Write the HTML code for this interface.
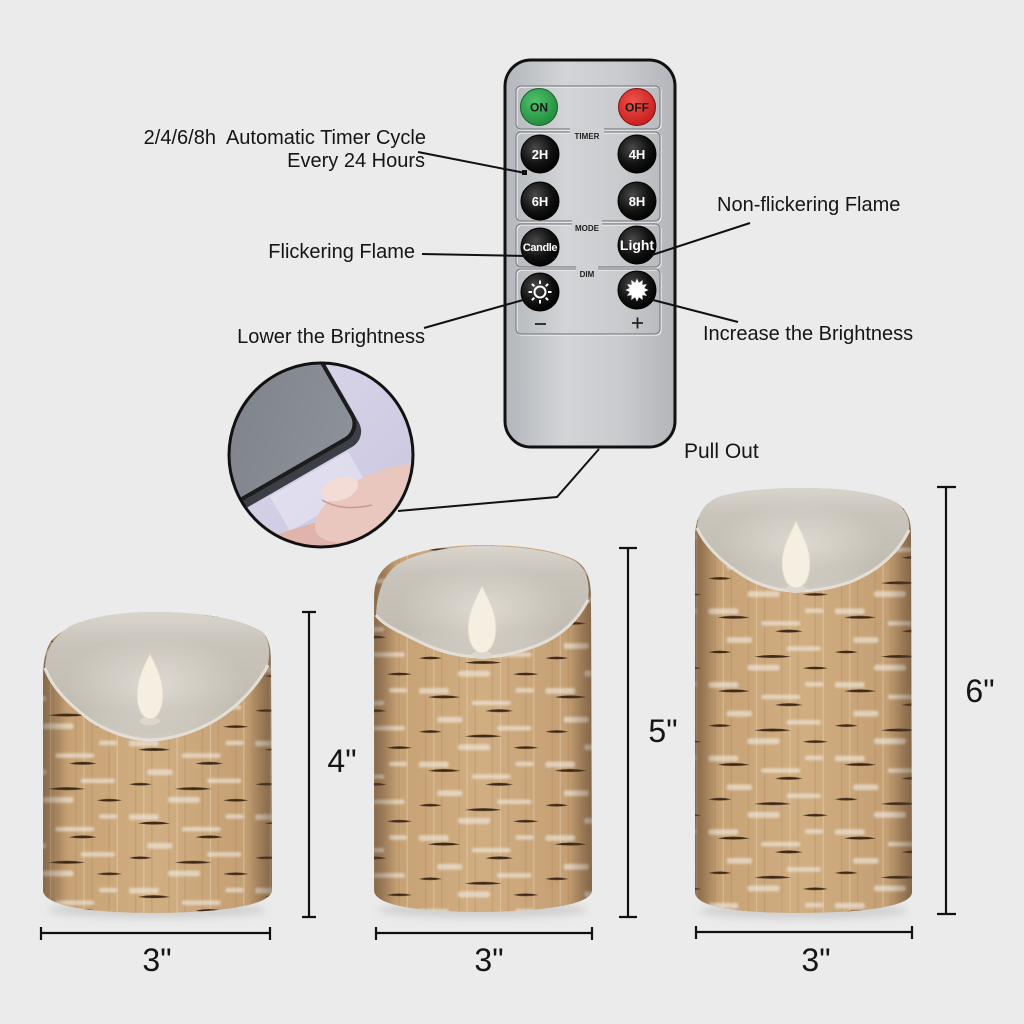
<!DOCTYPE html>
<html><head><meta charset="utf-8"><style>
html,body{margin:0;padding:0;background:#ebebeb;}
svg{display:block;}
text{font-family:"Liberation Sans",Arial,sans-serif;}
</style></head><body>
<svg width="1024" height="1024" viewBox="0 0 1024 1024" xmlns="http://www.w3.org/2000/svg">
<defs>
  <linearGradient id="rem" x1="0" y1="0" x2="1" y2="0">
    <stop offset="0" stop-color="#b3b6ba"/><stop offset=".35" stop-color="#d2d4d7"/>
    <stop offset=".7" stop-color="#c8cacd"/><stop offset="1" stop-color="#b2b5b9"/>
  </linearGradient>
  <radialGradient id="bb" cx=".38" cy=".35" r=".7">
    <stop offset="0" stop-color="#4a4a4a"/><stop offset=".6" stop-color="#121212"/><stop offset="1" stop-color="#000"/>
  </radialGradient>
  <radialGradient id="gb" cx=".4" cy=".35" r=".7">
    <stop offset="0" stop-color="#4fc26a"/><stop offset="1" stop-color="#1f8a3d"/>
  </radialGradient>
  <radialGradient id="rb" cx=".4" cy=".35" r=".7">
    <stop offset="0" stop-color="#f0514a"/><stop offset="1" stop-color="#c41d1d"/>
  </radialGradient>
  <linearGradient id="lav" x1="0" y1="0" x2="1" y2="1">
    <stop offset="0" stop-color="#dcd9ec"/><stop offset="1" stop-color="#c8c4de"/>
  </linearGradient>
  <linearGradient id="rg" x1="0" y1="0" x2="1" y2="1">
    <stop offset="0" stop-color="#6f747c"/><stop offset="1" stop-color="#8d929a"/>
  </linearGradient>
  <clipPath id="cc"><circle cx="321" cy="455" r="92"/></clipPath>

  <linearGradient id="bodyG" x1="0" y1="0" x2="1" y2="0">
    <stop offset="0" stop-color="#a4805a"/><stop offset=".12" stop-color="#c7a275"/>
    <stop offset=".5" stop-color="#d1ae82"/><stop offset=".88" stop-color="#c49f73"/>
    <stop offset="1" stop-color="#9f7c57"/>
  </linearGradient>
  <linearGradient id="edgeG" x1="0" y1="0" x2="1" y2="0">
    <stop offset="0" stop-color="#5a4430" stop-opacity=".4"/><stop offset=".1" stop-color="#5a4430" stop-opacity="0"/>
    <stop offset=".9" stop-color="#5a4430" stop-opacity="0"/><stop offset="1" stop-color="#5a4430" stop-opacity=".4"/>
  </linearGradient>
  <linearGradient id="waxG" x1="0" y1="0" x2="0" y2="1">
    <stop offset="0" stop-color="#d9d5cd"/><stop offset=".25" stop-color="#c9c4bb"/>
    <stop offset=".75" stop-color="#c2bdb3"/><stop offset="1" stop-color="#d1ccc3"/>
  </linearGradient>
  <radialGradient id="glow" cx=".5" cy=".55" r=".5">
    <stop offset="0" stop-color="#e4e0d8" stop-opacity=".8"/><stop offset="1" stop-color="#e4e0d8" stop-opacity="0"/>
  </radialGradient>
  <filter id="soft"><feGaussianBlur stdDeviation="1"/></filter>
  <pattern id="bark" width="110" height="64" patternUnits="userSpaceOnUse" patternTransform="scale(1.15)">
    <path d="M8 0v64M22 0v64M37 0v64M51 0v64M66 0v64M80 0v64M95 0v64" stroke="#a9825a" stroke-width="1.3" opacity=".3"/>
    <path d="M15 0v64M44 0v64M73 0v64M102 0v64" stroke="#efe3cf" stroke-width="1.1" opacity=".35"/>
    <g fill="#f3eee6" opacity=".6" filter="url(#soft)">
      <rect x="2" y="4" width="26" height="5" rx="2"/>
      <rect x="48" y="15" width="34" height="4" rx="2"/>
      <rect x="18" y="29" width="22" height="5" rx="2"/>
      <rect x="70" y="37" width="30" height="4" rx="2"/>
      <rect x="36" y="53" width="28" height="5" rx="2"/>
      <rect x="86" y="4" width="16" height="4" rx="2"/>
    </g>
    <g fill="#3f2a18">
      <path d="M10 12q14-3 28 0q-14 2-28 0z"/>
      <path d="M60 24q12-3 24 0q-12 2-24 0z"/>
      <path d="M2 42q10-2.5 20 0q-10 2-20 0z"/>
      <path d="M42 46q16-3 32 0q-16 2-32 0z"/>
      <path d="M84 56q11-2.5 22 0q-11 2-22 0z"/>
    </g>
  </pattern>
  <filter id="blur" x="-20%" y="-50%" width="140%" height="200%"><feGaussianBlur stdDeviation="4"/></filter>
</defs>

<rect width="1024" height="1024" fill="#ebebeb"/>

<!-- ============ REMOTE ============ -->
<rect x="505" y="60" width="170" height="387" rx="26" fill="url(#rem)" stroke="#111" stroke-width="3"/>
<g fill="none" stroke="#f0f1f2" stroke-width="1.2">
  <rect x="517" y="87" width="144" height="43" rx="5"/>
  <rect x="517" y="133" width="144" height="89" rx="5"/>
  <rect x="517" y="225" width="144" height="43" rx="5"/>
  <rect x="517" y="270" width="144" height="65" rx="5"/>
</g>
<g fill="none" stroke="#7d8084" stroke-width="1.2">
  <rect x="516" y="86" width="144" height="43" rx="5"/>
  <rect x="516" y="132" width="144" height="89" rx="5"/>
  <rect x="516" y="224" width="144" height="43" rx="5"/>
  <rect x="516" y="269" width="144" height="65" rx="5"/>
</g>
<g fill="#cfd1d4">
  <rect x="570" y="128" width="34" height="9"/>
  <rect x="572" y="220" width="30" height="9"/>
  <rect x="576" y="265" width="22" height="9"/>
</g>
<g font-size="8" font-weight="bold" fill="#222" text-anchor="middle">
  <text x="587" y="139">TIMER</text>
  <text x="587" y="231">MODE</text>
  <text x="587" y="277">DIM</text>
</g>

<circle cx="539" cy="107" r="18.5" fill="url(#gb)" stroke="#1b5e2c" stroke-width="1"/>
<circle cx="637" cy="107" r="18.5" fill="url(#rb)" stroke="#7d1212" stroke-width="1"/>
<g font-size="12" font-weight="bold" fill="#1a1a1a" text-anchor="middle">
  <text x="539" y="111.5">ON</text>
  <text x="637" y="111.5">OFF</text>
</g>
<g fill="url(#bb)" stroke="#000" stroke-width="1">
  <circle cx="540" cy="154" r="19"/>
  <circle cx="637" cy="154" r="19"/>
  <circle cx="540" cy="201" r="19"/>
  <circle cx="637" cy="201" r="19"/>
  <circle cx="540" cy="247" r="19"/>
  <circle cx="637" cy="245" r="19"/>
  <circle cx="540" cy="292" r="19"/>
  <circle cx="637" cy="290" r="19"/>
</g>
<g font-weight="bold" fill="#fff" text-anchor="middle">
  <text x="540" y="159" font-size="13">2H</text>
  <text x="637" y="159" font-size="13">4H</text>
  <text x="540" y="206" font-size="13">6H</text>
  <text x="637" y="206" font-size="13">8H</text>
  <text x="540" y="251" font-size="11" letter-spacing="-0.4">Candle</text>
  <text x="637" y="250" font-size="14">Light</text>
</g>
<g transform="translate(540,292)" stroke="#fff" stroke-width="2" fill="none">
  <circle r="5.5"/>
  <path d="M8 0H11.5M-8 0H-11.5M0 8V11.5M0 -8V-11.5M5.66 5.66L8.13 8.13M-5.66 5.66L-8.13 8.13M5.66 -5.66L8.13 -8.13M-5.66 -5.66L-8.13 -8.13"/>
</g>
<polygon transform="translate(637,290)" fill="#fff" points="11.5,0 7.24,1.94 9.96,5.75 5.3,5.3 5.75,9.96 1.94,7.24 0,11.5 -1.94,7.24 -5.75,9.96 -5.3,5.3 -9.96,5.75 -7.24,1.94 -11.5,0 -7.24,-1.94 -9.96,-5.75 -5.3,-5.3 -5.75,-9.96 -1.94,-7.24 0,-11.5 1.94,-7.24 5.75,-9.96 5.3,-5.3 9.96,-5.75 7.24,-1.94"/>
<g stroke="#222" stroke-width="1.8">
  <path d="M535 324H546"/>
  <path d="M632 323H643M637.5 317.5V328.5"/>
</g>

<!-- ============ CONNECTORS ============ -->
<g stroke="#111" stroke-width="2" fill="none">
  <path d="M418 152L525 173"/>
  <path d="M422 254L526 256"/>
  <path d="M424 328L523 300"/>
  <path d="M750 223L652 255"/>
  <path d="M653 300L738 322"/>
  <path d="M599 449L557 497L398 511"/>
</g>
<rect x="522" y="170" width="5" height="5" fill="#111"/>

<!-- ============ LABELS ============ -->
<g font-size="20" fill="#151515">
  <text x="426" y="144" text-anchor="end" xml:space="preserve">2/4/6/8h  Automatic Timer Cycle</text>
  <text x="425" y="167" text-anchor="end">Every 24 Hours</text>
  <text x="415" y="258" text-anchor="end">Flickering Flame</text>
  <text x="425" y="343" text-anchor="end">Lower the Brightness</text>
  <text x="717" y="211">Non-flickering Flame</text>
  <text x="703" y="340">Increase the Brightness</text>
  <text x="684" y="458" font-size="21">Pull Out</text>
</g>

<!-- ============ INSET CIRCLE ============ -->
<g clip-path="url(#cc)">
  <rect x="220" y="355" width="205" height="205" fill="url(#lav)"/>
  <g transform="rotate(-30 362 432)">
    <rect x="148" y="226" width="216" height="214" rx="18" fill="#3b3e44"/>
    <rect x="150" y="220" width="212" height="210" rx="18" fill="url(#rg)" stroke="#1c1c1c" stroke-width="4"/>
    <rect x="250" y="442" width="90" height="40" fill="#f2f1f8" opacity=".45"/>
  </g>
  <ellipse cx="300" cy="550" rx="95" ry="22" transform="rotate(-18 300 550)" fill="#e0b3ab"/>
  <ellipse cx="380" cy="503" rx="70" ry="30" transform="rotate(-24 380 503)" fill="#eac7be"/>
  <ellipse cx="340" cy="489" rx="19" ry="11" transform="rotate(-20 340 489)" fill="#f3dcd6"/>
  <path d="M322 500 Q342 512 372 505" stroke="#c99a90" stroke-width="1.5" fill="none"/>
</g>
<circle cx="321" cy="455" r="92" fill="none" stroke="#111" stroke-width="3"/>

<!-- ============ CANDLES ============ -->
<g fill="#c9c9c9" filter="url(#blur)" opacity=".8">
  <ellipse cx="157" cy="910" rx="110" ry="8"/>
  <ellipse cx="483" cy="910" rx="105" ry="8"/>
  <ellipse cx="803" cy="911" rx="105" ry="8"/>
</g>

<!-- Small candle -->
<g>
  <path d="M43,680 C43,660 46,648 52,640 C70,622 100,614 150,612 C200,612 240,618 262,632 C270,640 271,650 271,665 L272,890 C272,902 240,912 157,913 C75,913 43,903 43,890 Z" fill="url(#bodyG)"/>
  <path d="M43,680 C43,660 46,648 52,640 C70,622 100,614 150,612 C200,612 240,618 262,632 C270,640 271,650 271,665 L272,890 C272,902 240,912 157,913 C75,913 43,903 43,890 Z" fill="url(#bark)"/>
  <path d="M43,680 C43,660 46,648 52,640 C70,622 100,614 150,612 C200,612 240,618 262,632 C270,640 271,650 271,665 L272,890 C272,902 240,912 157,913 C75,913 43,903 43,890 Z" fill="url(#edgeG)"/>
  <path d="M45,668 C46,650 52,638 70,626 C95,615 125,612 150,612 C200,612 240,618 262,632 C270,640 270,652 268,665 C255,690 230,715 200,728 C180,737 160,740 150,740 C130,739 110,733 90,720 C70,705 52,688 45,668 Z" fill="url(#waxG)"/>
  <ellipse cx="155" cy="680" rx="90" ry="50" fill="url(#glow)"/>
  <path d="M45,668 C52,688 70,705 90,720 C110,733 130,739 150,740 C160,740 180,737 200,728 C230,715 255,690 268,665" fill="none" stroke="#e3dfd7" stroke-width="3"/>
  <ellipse cx="150" cy="721" rx="10" ry="4" fill="#ddd8cf"/>
  <path d="M150,654 C157,667 163,680 163,694 C163,710 157,719 150,719 C143,719 137,710 137,694 C137,680 143,667 150,654 Z" fill="#f5efe2" stroke="#e2d8c4" stroke-width="1"/>
</g>

<!-- Medium candle -->
<g>
  <path d="M374,600 C374,580 380,570 392,562 C415,550 450,545 483,545 C520,545 555,550 575,560 C588,568 591,580 591,600 L592,890 C592,902 560,911 483,912 C405,912 374,903 374,890 Z" fill="url(#bodyG)"/>
  <g transform="translate(37,21)">
  <path d="M337,579 C337,559 343,549 355,541 C378,529 413,524 446,524 C483,524 518,529 538,539 C551,547 554,559 554,579 L555,869 C555,881 523,890 446,891 C368,891 337,882 337,869 Z" fill="url(#bark)"/>
  </g>
  <path d="M374,600 C374,580 380,570 392,562 C415,550 450,545 483,545 C520,545 555,550 575,560 C588,568 591,580 591,600 L592,890 C592,902 560,911 483,912 C405,912 374,903 374,890 Z" fill="url(#edgeG)"/>
  <path d="M376,615 C377,590 385,572 400,563 C425,550 455,546 483,546 C520,546 555,551 575,561 C588,570 590,585 588,600 C575,625 555,640 530,648 C510,655 495,657 483,657 C460,657 440,652 420,642 C400,632 383,625 376,615 Z" fill="url(#waxG)"/>
  <ellipse cx="483" cy="605" rx="85" ry="45" fill="url(#glow)"/>
  <path d="M376,615 C383,625 400,632 420,642 C440,652 460,657 483,657 C495,657 510,655 530,648 C555,640 575,625 588,600" fill="none" stroke="#e3dfd7" stroke-width="3"/>
  <ellipse cx="482" cy="655" rx="10" ry="4" fill="#ddd8cf"/>
  <path d="M482,586 C489,600 496,612 496,628 C496,644 489,653 482,653 C475,653 468,644 468,628 C468,612 475,600 482,586 Z" fill="#f5efe2" stroke="#e2d8c4" stroke-width="1"/>
</g>

<!-- Large candle -->
<g>
  <path d="M695,540 C695,520 700,510 712,503 C735,492 765,488 800,488 C840,488 875,492 895,502 C908,510 911,520 911,535 L912,892 C912,904 880,912 803,913 C725,913 695,905 695,892 Z" fill="url(#bodyG)"/>
  <g transform="translate(-53,15)">
  <path d="M748,525 C748,505 753,495 765,488 C788,477 818,473 853,473 C893,473 928,477 948,487 C961,495 964,505 964,520 L965,877 C965,889 933,897 856,898 C778,898 748,890 748,877 Z" fill="url(#bark)"/>
  </g>
  <path d="M695,540 C695,520 700,510 712,503 C735,492 765,488 800,488 C840,488 875,492 895,502 C908,510 911,520 911,535 L912,892 C912,904 880,912 803,913 C725,913 695,905 695,892 Z" fill="url(#edgeG)"/>
  <path d="M697,528 C698,512 705,503 718,497 C740,490 770,488 800,488 C840,488 875,492 895,502 C907,510 910,520 909,530 C900,550 880,570 850,582 C830,589 810,591 797,591 C775,591 755,584 738,572 C720,560 705,545 697,528 Z" fill="url(#waxG)"/>
  <ellipse cx="800" cy="540" rx="85" ry="42" fill="url(#glow)"/>
  <path d="M697,528 C705,545 720,560 738,572 C755,584 775,591 797,591 C810,591 830,589 850,582 C880,570 900,550 909,530" fill="none" stroke="#e3dfd7" stroke-width="3"/>
  <ellipse cx="796" cy="589" rx="10" ry="4" fill="#ddd8cf"/>
  <path d="M796,521 C803,535 810,548 810,563 C810,580 803,588 796,588 C789,588 782,580 782,563 C782,548 789,535 796,521 Z" fill="#f5efe2" stroke="#e2d8c4" stroke-width="1"/>
</g>

<!-- ============ DIMENSIONS ============ -->
<g stroke="#111" stroke-width="2.2" fill="none">
  <path d="M309 612V917M302 612H316M302 917H316"/>
  <path d="M628 548V917M619 548H637M619 917H637"/>
  <path d="M946 487V914M937 487H956M937 914H956"/>
  <path d="M41 933H270M41 927V940M270 927V940"/>
  <path d="M376 933H592M376 927V940M592 927V940"/>
  <path d="M696 932H912M696 926V939M912 926V939"/>
</g>
<g font-size="32" fill="#151515" text-anchor="middle">
  <text x="342" y="772">4"</text>
  <text x="663" y="742">5"</text>
  <text x="980" y="702">6"</text>
  <text x="157" y="971">3"</text>
  <text x="489" y="971">3"</text>
  <text x="816" y="971">3"</text>
</g>
</svg>
</body></html>
